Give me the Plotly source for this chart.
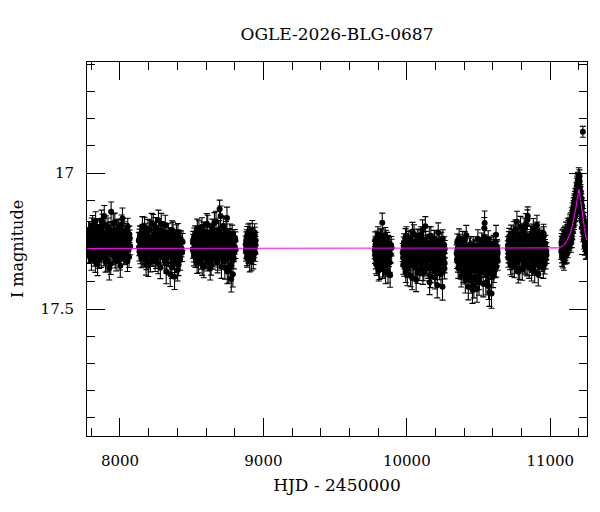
"""
    OGLE EWS style light curve, I band, with the model curve
"""
import plotly.graph_objects as go

"""
    Photometry, one set of arrays per observing season
    (HJD - 2450000, I magnitude, error)
"""
s1_t = [7771.3, 7775.2, 7779.8, 7783.4, 7788.1, 7792.6, 7796.2, 7800.9, 7804.5, 7809.3,
        7813.7, 7817.2, 7821.9, 7826.4, 7830.1, 7834.8, 7839.2, 7843.5, 7847.3, 7852.1,
        7856.4, 7860.2, 7864.9, 7869.3, 7873.1, 7877.8, 7882.2, 7886.5, 7890.3, 7895.1,
        7899.4, 7903.2, 7907.9, 7912.3, 7916.1, 7920.8, 7925.2, 7929.5, 7933.3, 7938.1,
        7942.4, 7946.2, 7950.9, 7955.3, 7959.1, 7963.8, 7968.2, 7972.5, 7976.3, 7981.1,
        7985.4, 7989.2, 7993.9, 7998.3, 8002.1, 8006.8, 8011.2, 8015.5, 8019.3, 8024.1,
        8028.4, 8032.2, 8036.9, 8041.3, 8045.1, 8049.8, 8054.2, 8058.5, 8063.3, 8068.1,
        7773.4, 7777.6, 7781.5, 7785.9, 7790.2, 7794.5, 7798.6, 7802.8, 7806.9, 7811.4,
        7815.5, 7819.6, 7824.1, 7828.3, 7832.5, 7837.0, 7841.4, 7845.3, 7849.8, 7854.2,
        7858.3, 7862.6, 7867.1, 7871.2, 7875.5, 7880.0, 7884.3, 7888.4, 7892.7, 7897.2,
        7901.3, 7905.6, 7910.1, 7914.2, 7918.5, 7923.0, 7927.3, 7931.4, 7935.7, 7940.2,
        7944.3, 7948.6, 7953.1, 7957.2, 7961.5, 7966.0, 7970.3, 7974.4, 7978.7, 7983.2,
        7987.3, 7991.6, 7996.1, 8000.2, 8004.5, 8009.0, 8013.3, 8017.4, 8021.7, 8026.2,
        8030.3, 8034.6, 8039.1, 8043.2, 8047.5, 8052.0, 8056.3, 8060.4, 8065.2, 8070.6]
s1_m = [17.262, 17.231, 17.298, 17.247, 17.214, 17.283, 17.256, 17.319, 17.238, 17.191,
        17.274, 17.229, 17.305, 17.251, 17.176, 17.268, 17.242, 17.336, 17.221, 17.259,
        17.289, 17.203, 17.247, 17.311, 17.265, 17.184, 17.236, 17.278, 17.158, 17.252,
        17.327, 17.219, 17.264, 17.291, 17.197, 17.243, 17.349, 17.258, 17.226, 17.142,
        17.273, 17.239, 17.302, 17.211, 17.268, 17.181, 17.249, 17.322, 17.232, 17.277,
        17.205, 17.261, 17.295, 17.222, 17.341, 17.253, 17.188, 17.284, 17.237, 17.269,
        17.214, 17.298, 17.246, 17.263, 17.229, 17.283, 17.197, 17.256, 17.308, 17.241,
        17.244, 17.278, 17.209, 17.263, 17.301, 17.236, 17.272, 17.195, 17.289, 17.251,
        17.218, 17.293, 17.257, 17.327, 17.234, 17.269, 17.201, 17.281, 17.246, 17.315,
        17.226, 17.262, 17.298, 17.173, 17.254, 17.287, 17.219, 17.306, 17.241, 17.276,
        17.193, 17.259, 17.322, 17.238, 17.284, 17.212, 17.267, 17.247, 17.333, 17.229,
        17.291, 17.254, 17.186, 17.273, 17.239, 17.312, 17.262, 17.221, 17.296, 17.248,
        17.276, 17.203, 17.258, 17.318, 17.236, 17.285, 17.249, 17.167, 17.271, 17.302,
        17.233, 17.266, 17.291, 17.217, 17.258, 17.324, 17.242, 17.279, 17.225, 17.268]
s1_e = [0.031, 0.029, 0.034, 0.030, 0.036, 0.032, 0.028, 0.038, 0.031, 0.035,
        0.030, 0.033, 0.037, 0.029, 0.034, 0.031, 0.030, 0.041, 0.032, 0.029,
        0.035, 0.031, 0.028, 0.036, 0.030, 0.033, 0.032, 0.029, 0.039, 0.031,
        0.037, 0.030, 0.031, 0.034, 0.032, 0.029, 0.044, 0.030, 0.033, 0.036,
        0.031, 0.028, 0.035, 0.032, 0.030, 0.034, 0.029, 0.038, 0.031, 0.030,
        0.033, 0.029, 0.036, 0.031, 0.042, 0.030, 0.034, 0.032, 0.028, 0.031,
        0.035, 0.037, 0.030, 0.029, 0.033, 0.036, 0.031, 0.030, 0.039, 0.032,
        0.030, 0.033, 0.031, 0.036, 0.029, 0.032, 0.034, 0.030, 0.037, 0.031,
        0.032, 0.029, 0.035, 0.038, 0.030, 0.031, 0.034, 0.032, 0.030, 0.036,
        0.031, 0.033, 0.029, 0.037, 0.032, 0.030, 0.034, 0.035, 0.031, 0.029,
        0.036, 0.030, 0.039, 0.031, 0.033, 0.030, 0.032, 0.029, 0.040, 0.031,
        0.034, 0.030, 0.036, 0.031, 0.029, 0.037, 0.032, 0.030, 0.035, 0.031,
        0.029, 0.034, 0.031, 0.038, 0.030, 0.033, 0.032, 0.039, 0.030, 0.035,
        0.031, 0.030, 0.034, 0.032, 0.029, 0.038, 0.031, 0.033, 0.030, 0.032]

s2_t = [8131.2, 8135.6, 8139.1, 8143.8, 8148.2, 8152.5, 8156.3, 8161.1, 8165.4, 8169.2,
        8173.9, 8178.3, 8182.1, 8186.8, 8191.2, 8195.5, 8199.3, 8204.1, 8208.4, 8212.2,
        8216.9, 8221.3, 8225.1, 8229.8, 8234.2, 8238.5, 8242.3, 8247.1, 8251.4, 8255.2,
        8259.9, 8264.3, 8268.1, 8272.8, 8277.2, 8281.5, 8285.3, 8290.1, 8294.4, 8298.2,
        8302.9, 8307.3, 8311.1, 8315.8, 8320.2, 8324.5, 8328.3, 8333.1, 8337.4, 8341.2,
        8345.9, 8350.3, 8354.1, 8358.8, 8363.2, 8367.5, 8371.3, 8376.1, 8380.4, 8384.2,
        8388.9, 8393.3, 8397.1, 8401.8, 8406.2, 8410.5, 8414.3, 8419.1, 8424.4, 8433.2,
        8133.4, 8137.5, 8141.6, 8146.0, 8150.3, 8154.4, 8158.7, 8163.2, 8167.3, 8171.6,
        8176.1, 8180.2, 8184.5, 8189.0, 8193.3, 8197.4, 8201.7, 8206.2, 8210.3, 8214.6,
        8219.1, 8223.2, 8227.5, 8232.0, 8236.3, 8240.4, 8244.7, 8249.2, 8253.3, 8257.6,
        8262.1, 8266.2, 8270.5, 8275.0, 8279.3, 8283.4, 8287.7, 8292.2, 8296.3, 8300.6,
        8305.1, 8309.2, 8313.5, 8318.0, 8322.3, 8326.4, 8330.7, 8335.2, 8339.3, 8343.6,
        8348.1, 8352.2, 8356.5, 8361.0, 8365.3, 8369.4, 8373.7, 8378.2, 8382.3, 8386.6,
        8391.1, 8395.2, 8399.5, 8404.0, 8408.3, 8412.4, 8416.7, 8421.8, 8428.5, 8436.1]
s2_m = [17.248, 17.289, 17.226, 17.271, 17.312, 17.239, 17.195, 17.263, 17.301, 17.254,
        17.218, 17.283, 17.337, 17.247, 17.269, 17.205, 17.292, 17.236, 17.274, 17.326,
        17.259, 17.184, 17.267, 17.309, 17.228, 17.281, 17.246, 17.198, 17.315, 17.262,
        17.241, 17.294, 17.173, 17.276, 17.233, 17.348, 17.257, 17.212, 17.288, 17.269,
        17.302, 17.225, 17.264, 17.191, 17.279, 17.331, 17.244, 17.297, 17.218, 17.258,
        17.286, 17.372, 17.236, 17.271, 17.209, 17.318, 17.252, 17.293, 17.381, 17.243,
        17.267, 17.224, 17.305, 17.356, 17.238, 17.284, 17.262, 17.319, 17.247, 17.292,
        17.273, 17.236, 17.298, 17.257, 17.221, 17.284, 17.309, 17.243, 17.266, 17.197,
        17.291, 17.252, 17.318, 17.229, 17.276, 17.341, 17.248, 17.207, 17.283, 17.262,
        17.302, 17.238, 17.271, 17.189, 17.295, 17.256, 17.324, 17.245, 17.213, 17.287,
        17.263, 17.331, 17.227, 17.279, 17.249, 17.305, 17.186, 17.268, 17.296, 17.234,
        17.257, 17.314, 17.242, 17.283, 17.362, 17.221, 17.274, 17.249, 17.308, 17.266,
        17.233, 17.297, 17.259, 17.346, 17.276, 17.214, 17.289, 17.243, 17.327, 17.268,
        17.301, 17.247, 17.282, 17.219, 17.337, 17.262, 17.294, 17.241, 17.276, 17.253]
s2_e = [0.030, 0.034, 0.031, 0.029, 0.036, 0.032, 0.035, 0.030, 0.033, 0.028,
        0.034, 0.031, 0.038, 0.030, 0.029, 0.035, 0.032, 0.031, 0.030, 0.037,
        0.032, 0.036, 0.029, 0.034, 0.031, 0.030, 0.028, 0.035, 0.036, 0.031,
        0.029, 0.033, 0.037, 0.030, 0.032, 0.040, 0.031, 0.034, 0.029, 0.030,
        0.035, 0.031, 0.030, 0.036, 0.029, 0.038, 0.032, 0.031, 0.034, 0.030,
        0.032, 0.045, 0.030, 0.029, 0.034, 0.037, 0.031, 0.033, 0.047, 0.030,
        0.031, 0.034, 0.036, 0.041, 0.030, 0.032, 0.029, 0.038, 0.031, 0.033,
        0.031, 0.030, 0.035, 0.032, 0.029, 0.034, 0.036, 0.031, 0.030, 0.035,
        0.033, 0.031, 0.037, 0.030, 0.032, 0.039, 0.031, 0.034, 0.030, 0.029,
        0.036, 0.031, 0.030, 0.037, 0.034, 0.032, 0.038, 0.030, 0.033, 0.031,
        0.029, 0.039, 0.032, 0.030, 0.031, 0.035, 0.038, 0.030, 0.034, 0.032,
        0.031, 0.036, 0.030, 0.033, 0.045, 0.034, 0.030, 0.031, 0.036, 0.029,
        0.033, 0.035, 0.030, 0.041, 0.031, 0.034, 0.032, 0.030, 0.039, 0.031,
        0.035, 0.030, 0.032, 0.034, 0.040, 0.031, 0.033, 0.030, 0.032, 0.031]

s3_t = [8507.6, 8511.3, 8515.9, 8520.4, 8524.2, 8528.7, 8533.1, 8537.4, 8541.2, 8545.9,
        8550.3, 8554.1, 8558.6, 8563.2, 8567.5, 8571.3, 8575.8, 8580.2, 8584.4, 8588.1,
        8592.7, 8597.2, 8601.4, 8605.3, 8609.8, 8614.1, 8618.5, 8622.3, 8626.9, 8631.2,
        8635.4, 8639.3, 8643.8, 8648.2, 8652.5, 8656.3, 8660.9, 8665.1, 8669.4, 8673.2,
        8677.8, 8682.3, 8686.5, 8690.2, 8694.7, 8699.1, 8703.4, 8707.3, 8711.8, 8716.2,
        8720.5, 8724.3, 8728.9, 8733.1, 8737.4, 8741.2, 8745.8, 8750.3, 8754.5, 8758.2,
        8762.7, 8767.1, 8771.4, 8775.8, 8780.2, 8784.5, 8789.3, 8793.8, 8798.4, 8804.1,
        8509.4, 8513.6, 8518.1, 8522.3, 8526.5, 8530.9, 8535.2, 8539.3, 8543.5, 8548.1,
        8552.2, 8556.4, 8560.9, 8565.3, 8569.4, 8573.5, 8578.0, 8582.3, 8586.2, 8590.4,
        8594.9, 8599.3, 8603.3, 8607.5, 8611.9, 8616.3, 8620.4, 8624.6, 8629.0, 8633.3,
        8637.3, 8641.5, 8646.0, 8650.3, 8654.4, 8658.6, 8663.0, 8667.2, 8671.3, 8675.5,
        8680.0, 8684.4, 8688.3, 8692.4, 8696.9, 8701.2, 8705.3, 8709.5, 8714.0, 8718.3,
        8722.4, 8726.6, 8731.0, 8735.2, 8739.3, 8743.5, 8748.0, 8752.4, 8756.3, 8760.4,
        8764.9, 8769.2, 8773.6, 8778.0, 8782.3, 8786.9, 8791.5, 8796.1, 8801.2, 8805.6]
s3_m = [17.281, 17.244, 17.306, 17.259, 17.223, 17.294, 17.267, 17.332, 17.238, 17.276,
        17.211, 17.289, 17.252, 17.318, 17.264, 17.197, 17.283, 17.241, 17.345, 17.272,
        17.229, 17.302, 17.258, 17.186, 17.277, 17.314, 17.246, 17.291, 17.219, 17.268,
        17.336, 17.254, 17.203, 17.287, 17.263, 17.309, 17.232, 17.279, 17.178, 17.296,
        17.248, 17.321, 17.265, 17.208, 17.132, 17.284, 17.253, 17.344, 17.227, 17.271,
        17.193, 17.299, 17.262, 17.237, 17.318, 17.274, 17.165, 17.289, 17.246, 17.358,
        17.268, 17.221, 17.302, 17.389, 17.255, 17.286, 17.237, 17.314, 17.269, 17.247,
        17.256, 17.293, 17.232, 17.274, 17.311, 17.248, 17.285, 17.204, 17.267, 17.329,
        17.243, 17.278, 17.301, 17.226, 17.259, 17.337, 17.271, 17.215, 17.288, 17.252,
        17.306, 17.239, 17.275, 17.323, 17.191, 17.264, 17.298, 17.247, 17.351, 17.281,
        17.222, 17.269, 17.316, 17.244, 17.289, 17.183, 17.263, 17.304, 17.237, 17.276,
        17.328, 17.251, 17.209, 17.293, 17.266, 17.158, 17.282, 17.241, 17.312, 17.257,
        17.299, 17.228, 17.347, 17.271, 17.213, 17.286, 17.362, 17.249, 17.305, 17.234,
        17.279, 17.341, 17.258, 17.296, 17.224, 17.372, 17.266, 17.291, 17.238, 17.282]
s3_e = [0.032, 0.030, 0.035, 0.031, 0.029, 0.034, 0.030, 0.037, 0.032, 0.031,
        0.036, 0.030, 0.029, 0.035, 0.031, 0.033, 0.030, 0.032, 0.040, 0.031,
        0.030, 0.034, 0.031, 0.037, 0.029, 0.035, 0.032, 0.030, 0.033, 0.031,
        0.039, 0.031, 0.034, 0.030, 0.032, 0.036, 0.029, 0.031, 0.038, 0.033,
        0.030, 0.036, 0.031, 0.034, 0.033, 0.030, 0.032, 0.043, 0.031, 0.029,
        0.035, 0.032, 0.030, 0.031, 0.037, 0.029, 0.040, 0.033, 0.031, 0.046,
        0.030, 0.034, 0.036, 0.048, 0.031, 0.032, 0.030, 0.038, 0.029, 0.031,
        0.031, 0.034, 0.030, 0.032, 0.036, 0.029, 0.033, 0.035, 0.031, 0.038,
        0.030, 0.032, 0.034, 0.031, 0.029, 0.039, 0.032, 0.035, 0.030, 0.031,
        0.036, 0.030, 0.032, 0.037, 0.036, 0.031, 0.034, 0.030, 0.042, 0.032,
        0.034, 0.031, 0.037, 0.030, 0.033, 0.038, 0.031, 0.035, 0.030, 0.032,
        0.039, 0.030, 0.034, 0.033, 0.031, 0.037, 0.030, 0.032, 0.036, 0.031,
        0.034, 0.031, 0.043, 0.030, 0.035, 0.032, 0.045, 0.031, 0.036, 0.030,
        0.032, 0.041, 0.031, 0.034, 0.033, 0.047, 0.030, 0.035, 0.031, 0.032]

s4_t = [8876.4, 8879.8, 8883.1, 8886.7, 8890.2, 8893.5, 8897.1, 8900.6, 8904.2, 8907.8,
        8911.3, 8914.9, 8918.4, 8922.1, 8925.6, 8929.2, 8932.7, 8936.3, 8940.1, 8944.6,
        8878.1, 8881.5, 8884.9, 8888.4, 8891.8, 8895.3, 8898.9, 8902.4, 8906.0, 8909.5,
        8913.1, 8916.6, 8920.2, 8923.8, 8927.4, 8931.0, 8934.5, 8938.2, 8942.3, 8946.1]
s4_m = [17.262, 17.291, 17.238, 17.305, 17.254, 17.219, 17.283, 17.247, 17.326, 17.271,
        17.233, 17.298, 17.259, 17.208, 17.287, 17.316, 17.244, 17.278, 17.229, 17.265,
        17.281, 17.246, 17.312, 17.227, 17.268, 17.296, 17.241, 17.274, 17.215, 17.289,
        17.257, 17.323, 17.236, 17.279, 17.251, 17.302, 17.262, 17.218, 17.293, 17.248]
s4_e = [0.031, 0.033, 0.030, 0.035, 0.029, 0.032, 0.031, 0.034, 0.037, 0.030,
        0.032, 0.031, 0.029, 0.034, 0.030, 0.036, 0.031, 0.033, 0.030, 0.032,
        0.032, 0.030, 0.034, 0.031, 0.029, 0.035, 0.030, 0.033, 0.031, 0.032,
        0.030, 0.036, 0.031, 0.029, 0.033, 0.034, 0.030, 0.032, 0.031, 0.030]

s5_t = [9775.8, 9779.6, 9783.2, 9787.1, 9790.9, 9794.5, 9798.3, 9802.2, 9805.8, 9809.7,
        9813.4, 9817.2, 9821.1, 9824.8, 9828.6, 9832.3, 9836.2, 9839.9, 9843.7, 9847.5,
        9851.3, 9855.1, 9858.8, 9862.6, 9866.4, 9870.2, 9874.1, 9878.3, 9883.2, 9890.6,
        9777.7, 9781.4, 9785.2, 9789.0, 9792.7, 9796.4, 9800.3, 9804.0, 9807.8, 9811.6,
        9815.3, 9819.2, 9823.0, 9826.7, 9830.5, 9834.3, 9838.1, 9841.8, 9845.6, 9849.4,
        9853.2, 9857.0, 9860.7, 9864.5, 9868.3, 9872.2, 9876.2, 9880.8, 9886.9, 9893.1]
s5_m = [17.283, 17.246, 17.317, 17.268, 17.339, 17.291, 17.227, 17.304, 17.262, 17.352,
        17.279, 17.238, 17.321, 17.296, 17.182, 17.271, 17.344, 17.253, 17.308, 17.287,
        17.366, 17.242, 17.299, 17.273, 17.328, 17.259, 17.311, 17.284, 17.376, 17.265,
        17.301, 17.262, 17.334, 17.279, 17.243, 17.316, 17.288, 17.357, 17.254, 17.297,
        17.326, 17.271, 17.235, 17.309, 17.348, 17.283, 17.257, 17.319, 17.294, 17.232,
        17.341, 17.276, 17.305, 17.249, 17.362, 17.287, 17.266, 17.329, 17.298, 17.274]
s5_e = [0.032, 0.030, 0.035, 0.031, 0.037, 0.033, 0.030, 0.034, 0.031, 0.039,
        0.030, 0.032, 0.036, 0.031, 0.035, 0.030, 0.038, 0.031, 0.033, 0.030,
        0.041, 0.032, 0.031, 0.034, 0.036, 0.030, 0.033, 0.031, 0.044, 0.032,
        0.031, 0.030, 0.036, 0.032, 0.030, 0.034, 0.031, 0.040, 0.030, 0.033,
        0.036, 0.031, 0.030, 0.034, 0.039, 0.032, 0.030, 0.035, 0.031, 0.032,
        0.038, 0.030, 0.034, 0.031, 0.042, 0.033, 0.030, 0.036, 0.032, 0.031]

s6_t = [9971.4, 9975.3, 9979.8, 9984.2, 9988.1, 9992.6, 9996.9, 10001.2, 10005.4, 10009.8,
        10013.6, 10017.9, 10022.3, 10026.5, 10030.4, 10034.8, 10039.1, 10043.3, 10047.6, 10051.9,
        10056.2, 10060.4, 10064.7, 10068.9, 10073.3, 10077.5, 10081.8, 10086.1, 10090.3, 10094.6,
        10098.9, 10103.2, 10107.4, 10111.7, 10115.9, 10120.3, 10124.5, 10128.8, 10133.1, 10137.3,
        10141.6, 10145.9, 10150.2, 10154.4, 10158.7, 10162.9, 10167.3, 10171.5, 10175.8, 10180.1,
        10184.3, 10188.6, 10192.9, 10197.2, 10201.4, 10205.7, 10209.9, 10214.3, 10218.5, 10222.8,
        10227.1, 10231.3, 10235.6, 10239.9, 10244.2, 10248.4, 10252.7, 10256.9, 10260.8, 10263.5,
        9973.5, 9977.6, 9982.0, 9986.2, 9990.4, 9994.8, 9999.1, 10003.3, 10007.6, 10011.7,
        10015.8, 10020.1, 10024.4, 10028.5, 10032.6, 10037.0, 10041.2, 10045.5, 10049.8, 10054.1,
        10058.3, 10062.6, 10066.8, 10071.1, 10075.4, 10079.7, 10084.0, 10088.2, 10092.5, 10096.8,
        10101.1, 10105.3, 10109.6, 10113.8, 10118.1, 10122.4, 10126.7, 10131.0, 10135.2, 10139.5,
        10143.8, 10148.1, 10152.3, 10156.6, 10160.8, 10165.1, 10169.4, 10173.7, 10178.0, 10182.2,
        10186.5, 10190.8, 10195.1, 10199.3, 10203.6, 10207.8, 10212.1, 10216.4, 10220.7, 10225.0,
        10229.2, 10233.5, 10237.8, 10242.1, 10246.3, 10250.6, 10254.8, 10258.9, 10262.2, 10264.1]
s6_m = [17.292, 17.336, 17.254, 17.318, 17.271, 17.363, 17.229, 17.301, 17.347, 17.283,
        17.246, 17.324, 17.288, 17.377, 17.262, 17.309, 17.215, 17.296, 17.341, 17.274,
        17.318, 17.253, 17.392, 17.286, 17.237, 17.329, 17.301, 17.264, 17.356, 17.279,
        17.227, 17.312, 17.284, 17.369, 17.248, 17.297, 17.335, 17.195, 17.306, 17.271,
        17.342, 17.259, 17.316, 17.288, 17.401, 17.266, 17.231, 17.323, 17.294, 17.352,
        17.276, 17.311, 17.243, 17.384, 17.299, 17.262, 17.337, 17.281, 17.218, 17.308,
        17.354, 17.272, 17.326, 17.249, 17.297, 17.418, 17.286, 17.312, 17.264, 17.331,
        17.311, 17.268, 17.342, 17.287, 17.236, 17.323, 17.296, 17.372, 17.259, 17.304,
        17.335, 17.277, 17.243, 17.318, 17.291, 17.386, 17.264, 17.309, 17.225, 17.298,
        17.347, 17.282, 17.318, 17.254, 17.366, 17.293, 17.241, 17.328, 17.302, 17.271,
        17.339, 17.285, 17.208, 17.314, 17.357, 17.276, 17.298, 17.248, 17.331, 17.289,
        17.263, 17.349, 17.305, 17.232, 17.294, 17.378, 17.281, 17.317, 17.256, 17.329,
        17.301, 17.244, 17.362, 17.288, 17.323, 17.269, 17.412, 17.297, 17.339, 17.252,
        17.314, 17.283, 17.371, 17.265, 17.306, 17.241, 17.327, 17.293, 17.351, 17.279]
s6_e = [0.033, 0.036, 0.031, 0.034, 0.030, 0.039, 0.032, 0.031, 0.037, 0.030,
        0.032, 0.035, 0.030, 0.041, 0.031, 0.033, 0.034, 0.030, 0.038, 0.031,
        0.034, 0.030, 0.044, 0.032, 0.031, 0.036, 0.030, 0.033, 0.039, 0.031,
        0.030, 0.034, 0.031, 0.040, 0.032, 0.030, 0.037, 0.035, 0.031, 0.033,
        0.036, 0.031, 0.033, 0.030, 0.046, 0.032, 0.034, 0.035, 0.030, 0.038,
        0.031, 0.034, 0.032, 0.042, 0.030, 0.031, 0.036, 0.033, 0.035, 0.032,
        0.038, 0.030, 0.034, 0.031, 0.032, 0.049, 0.031, 0.035, 0.030, 0.036,
        0.031, 0.033, 0.037, 0.030, 0.032, 0.035, 0.031, 0.042, 0.030, 0.034,
        0.036, 0.031, 0.033, 0.030, 0.032, 0.043, 0.031, 0.034, 0.035, 0.030,
        0.037, 0.031, 0.033, 0.032, 0.040, 0.030, 0.034, 0.036, 0.031, 0.032,
        0.038, 0.030, 0.036, 0.033, 0.039, 0.031, 0.030, 0.034, 0.037, 0.032,
        0.031, 0.038, 0.033, 0.035, 0.030, 0.043, 0.031, 0.034, 0.032, 0.036,
        0.030, 0.034, 0.041, 0.031, 0.035, 0.030, 0.047, 0.032, 0.037, 0.031,
        0.033, 0.030, 0.040, 0.031, 0.034, 0.033, 0.036, 0.030, 0.038, 0.031]

s7_t = [10347.5, 10351.2, 10356.1, 10359.7, 10364.4, 10368.0, 10372.9, 10376.3, 10381.2, 10384.6,
        10389.4, 10392.8, 10397.7, 10401.1, 10406.0, 10409.5, 10414.3, 10417.8, 10422.6, 10426.0,
        10430.9, 10434.3, 10439.2, 10442.6, 10447.5, 10450.9, 10455.8, 10459.2, 10464.1, 10467.5,
        10472.4, 10475.8, 10480.7, 10484.1, 10489.0, 10492.4, 10497.3, 10500.7, 10505.6, 10509.0,
        10513.9, 10517.3, 10522.2, 10525.6, 10530.5, 10533.9, 10538.8, 10542.2, 10547.1, 10550.5,
        10555.4, 10558.8, 10563.7, 10567.1, 10572.0, 10575.4, 10580.3, 10583.7, 10588.6, 10592.0,
        10596.9, 10600.3, 10605.2, 10608.6, 10613.5, 10616.9, 10621.8, 10625.2, 10629.1, 10632.6,
        10349.3, 10353.8, 10357.9, 10362.1, 10366.2, 10370.4, 10374.6, 10378.8, 10382.9, 10387.0,
        10391.1, 10395.3, 10399.4, 10403.6, 10407.8, 10411.9, 10416.1, 10420.2, 10424.3, 10428.5,
        10432.6, 10436.8, 10440.9, 10445.1, 10449.2, 10453.4, 10457.5, 10461.7, 10465.8, 10470.0,
        10474.1, 10478.3, 10482.4, 10486.6, 10490.7, 10494.9, 10499.0, 10503.2, 10507.3, 10511.5,
        10515.6, 10519.8, 10523.9, 10528.1, 10532.2, 10536.4, 10540.5, 10544.7, 10548.8, 10553.0,
        10557.1, 10561.3, 10565.4, 10569.6, 10573.7, 10577.9, 10582.0, 10586.2, 10590.3, 10594.5,
        10598.6, 10602.8, 10606.9, 10611.1, 10615.2, 10619.4, 10623.5, 10627.2, 10630.8, 10633.4]
s7_m = [17.296, 17.254, 17.328, 17.271, 17.239, 17.307, 17.283, 17.351, 17.262, 17.318,
        17.247, 17.339, 17.293, 17.368, 17.276, 17.312, 17.228, 17.334, 17.301, 17.382,
        17.289, 17.356, 17.318, 17.263, 17.397, 17.322, 17.281, 17.346, 17.304, 17.412,
        17.331, 17.276, 17.359, 17.298, 17.425, 17.314, 17.342, 17.268, 17.386, 17.323,
        17.297, 17.364, 17.252, 17.338, 17.309, 17.281, 17.236, 17.183, 17.347, 17.402,
        17.326, 17.288, 17.371, 17.244, 17.315, 17.438, 17.291, 17.352, 17.267, 17.334,
        17.305, 17.379, 17.259, 17.321, 17.286, 17.348, 17.227, 17.312, 17.274, 17.296,
        17.318, 17.276, 17.349, 17.292, 17.257, 17.331, 17.304, 17.378, 17.268, 17.341,
        17.287, 17.362, 17.311, 17.246, 17.395, 17.323, 17.284, 17.357, 17.299, 17.418,
        17.336, 17.271, 17.352, 17.314, 17.383, 17.293, 17.428, 17.326, 17.265, 17.347,
        17.306, 17.391, 17.322, 17.278, 17.356, 17.241, 17.337, 17.402, 17.295, 17.364,
        17.315, 17.272, 17.346, 17.289, 17.407, 17.328, 17.203, 17.319, 17.262, 17.374,
        17.301, 17.345, 17.283, 17.416, 17.327, 17.264, 17.352, 17.298, 17.443, 17.311,
        17.336, 17.274, 17.361, 17.293, 17.327, 17.252, 17.344, 17.308, 17.281, 17.323]
s7_e = [0.032, 0.030, 0.036, 0.031, 0.034, 0.033, 0.030, 0.039, 0.031, 0.035,
        0.033, 0.037, 0.031, 0.040, 0.030, 0.034, 0.036, 0.032, 0.031, 0.042,
        0.031, 0.038, 0.033, 0.030, 0.045, 0.034, 0.031, 0.037, 0.032, 0.047,
        0.034, 0.031, 0.039, 0.032, 0.050, 0.033, 0.036, 0.030, 0.043, 0.034,
        0.031, 0.040, 0.032, 0.035, 0.033, 0.030, 0.034, 0.044, 0.036, 0.046,
        0.034, 0.031, 0.041, 0.032, 0.033, 0.052, 0.030, 0.038, 0.031, 0.035,
        0.032, 0.042, 0.030, 0.034, 0.031, 0.037, 0.035, 0.033, 0.030, 0.031,
        0.033, 0.031, 0.038, 0.030, 0.032, 0.035, 0.031, 0.041, 0.030, 0.037,
        0.032, 0.040, 0.034, 0.031, 0.046, 0.033, 0.030, 0.038, 0.031, 0.048,
        0.034, 0.032, 0.039, 0.031, 0.044, 0.030, 0.051, 0.035, 0.031, 0.038,
        0.032, 0.045, 0.034, 0.030, 0.039, 0.033, 0.035, 0.047, 0.031, 0.041,
        0.033, 0.030, 0.038, 0.032, 0.048, 0.034, 0.040, 0.033, 0.031, 0.043,
        0.032, 0.037, 0.031, 0.049, 0.034, 0.030, 0.039, 0.032, 0.054, 0.033,
        0.035, 0.031, 0.041, 0.032, 0.034, 0.030, 0.038, 0.033, 0.031, 0.034]

s8_t = [10703.6, 10707.4, 10711.5, 10715.1, 10719.3, 10722.8, 10727.0, 10730.6, 10734.7, 10738.3,
        10742.5, 10746.1, 10750.2, 10753.8, 10758.0, 10761.5, 10765.7, 10769.3, 10773.4, 10777.0,
        10781.2, 10784.8, 10788.9, 10792.5, 10796.7, 10800.2, 10804.4, 10808.0, 10812.1, 10815.7,
        10819.9, 10823.5, 10827.6, 10831.2, 10835.4, 10838.9, 10843.1, 10846.7, 10850.8, 10854.4,
        10858.6, 10862.2, 10866.3, 10869.9, 10874.1, 10877.6, 10881.8, 10885.4, 10889.5, 10893.1,
        10897.3, 10900.9, 10905.0, 10908.6, 10912.8, 10916.3, 10920.5, 10924.1, 10928.2, 10931.8,
        10936.0, 10939.6, 10943.7, 10947.3, 10951.5, 10955.0, 10959.2, 10963.1, 10967.4, 10972.2,
        10705.5, 10709.4, 10713.3, 10717.2, 10721.0, 10724.9, 10728.8, 10732.6, 10736.5, 10740.4,
        10744.3, 10748.1, 10752.0, 10755.9, 10759.7, 10763.6, 10767.5, 10771.3, 10775.2, 10779.1,
        10783.0, 10786.8, 10790.7, 10794.6, 10798.4, 10802.3, 10806.2, 10810.0, 10813.9, 10817.8,
        10821.7, 10825.5, 10829.4, 10833.3, 10837.1, 10841.0, 10844.9, 10848.7, 10852.6, 10856.5,
        10860.4, 10864.2, 10868.1, 10872.0, 10875.8, 10879.7, 10883.6, 10887.4, 10891.3, 10895.2,
        10899.1, 10902.9, 10906.8, 10910.7, 10914.5, 10918.4, 10922.3, 10926.1, 10930.0, 10933.9,
        10937.8, 10941.6, 10945.5, 10949.4, 10953.2, 10957.1, 10961.2, 10965.3, 10969.8, 10973.6]
s8_m = [17.279, 17.312, 17.246, 17.298, 17.261, 17.337, 17.224, 17.288, 17.319, 17.255,
        17.302, 17.231, 17.346, 17.274, 17.208, 17.293, 17.327, 17.251, 17.284, 17.363,
        17.238, 17.301, 17.269, 17.196, 17.315, 17.282, 17.354, 17.243, 17.296, 17.219,
        17.332, 17.266, 17.305, 17.187, 17.278, 17.341, 17.158, 17.289, 17.253, 17.318,
        17.271, 17.229, 17.309, 17.357, 17.246, 17.291, 17.203, 17.324, 17.262, 17.297,
        17.338, 17.257, 17.284, 17.215, 17.311, 17.372, 17.268, 17.236, 17.302, 17.279,
        17.244, 17.326, 17.289, 17.262, 17.348, 17.231, 17.305, 17.274, 17.317, 17.286,
        17.264, 17.297, 17.233, 17.286, 17.319, 17.251, 17.274, 17.342, 17.238, 17.305,
        17.271, 17.213, 17.289, 17.331, 17.256, 17.298, 17.179, 17.276, 17.314, 17.247,
        17.282, 17.351, 17.226, 17.293, 17.267, 17.309, 17.241, 17.321, 17.278, 17.202,
        17.295, 17.258, 17.336, 17.272, 17.229, 17.171, 17.302, 17.264, 17.347, 17.283,
        17.249, 17.312, 17.276, 17.221, 17.338, 17.268, 17.294, 17.237, 17.361, 17.281,
        17.255, 17.306, 17.192, 17.289, 17.327, 17.263, 17.298, 17.345, 17.248, 17.311,
        17.276, 17.239, 17.301, 17.267, 17.222, 17.293, 17.334, 17.259, 17.287, 17.301]
s8_e = [0.030, 0.034, 0.031, 0.032, 0.029, 0.037, 0.033, 0.030, 0.035, 0.031,
        0.032, 0.034, 0.039, 0.030, 0.036, 0.031, 0.035, 0.030, 0.029, 0.041,
        0.031, 0.033, 0.030, 0.037, 0.034, 0.029, 0.040, 0.032, 0.031, 0.035,
        0.036, 0.030, 0.032, 0.038, 0.029, 0.037, 0.034, 0.031, 0.030, 0.035,
        0.029, 0.033, 0.034, 0.040, 0.031, 0.030, 0.036, 0.035, 0.029, 0.032,
        0.037, 0.030, 0.031, 0.035, 0.033, 0.043, 0.030, 0.034, 0.032, 0.029,
        0.033, 0.036, 0.030, 0.031, 0.039, 0.034, 0.032, 0.030, 0.035, 0.031,
        0.031, 0.033, 0.030, 0.034, 0.036, 0.030, 0.032, 0.038, 0.031, 0.034,
        0.030, 0.035, 0.032, 0.037, 0.030, 0.033, 0.039, 0.031, 0.035, 0.030,
        0.032, 0.040, 0.034, 0.031, 0.030, 0.036, 0.032, 0.035, 0.031, 0.037,
        0.033, 0.030, 0.038, 0.031, 0.034, 0.036, 0.032, 0.030, 0.040, 0.031,
        0.033, 0.035, 0.030, 0.034, 0.038, 0.031, 0.032, 0.030, 0.042, 0.031,
        0.030, 0.034, 0.037, 0.032, 0.036, 0.030, 0.033, 0.039, 0.031, 0.034,
        0.032, 0.030, 0.035, 0.031, 0.034, 0.033, 0.037, 0.030, 0.032, 0.031]

s9_t = [11077.4, 11079.9, 11082.6, 11085.1, 11087.8, 11090.2, 11092.9, 11095.3, 11098.1, 11100.6,
        11103.2, 11105.7, 11108.4, 11110.8, 11113.5, 11116.1, 11118.6, 11121.3, 11123.7, 11126.4,
        11128.9, 11131.5, 11134.2, 11136.6, 11139.3, 11141.8, 11144.4, 11147.1, 11149.5, 11152.2,
        11154.7, 11157.3, 11160.0, 11162.4, 11165.1, 11167.6, 11170.2, 11172.9, 11175.3, 11178.0,
        11180.5, 11183.1, 11185.8, 11188.2, 11190.9, 11193.4, 11196.0, 11198.7, 11201.1, 11203.8,
        11206.3, 11208.9, 11211.6, 11214.0, 11216.7, 11219.2, 11221.8, 11224.5, 11226.9, 11229.6,
        11232.1, 11234.7, 11237.4, 11239.8, 11242.5, 11245.0, 11247.6, 11250.3, 11252.7, 11254.8,
        11078.6, 11081.3, 11083.8, 11086.5, 11089.0, 11091.6, 11094.1, 11096.8, 11099.3, 11101.9,
        11104.5, 11107.0, 11109.6, 11112.2, 11114.8, 11117.4, 11119.9, 11122.5, 11125.1, 11127.6,
        11130.2, 11132.8, 11135.4, 11137.9, 11140.5, 11143.1, 11145.7, 11148.3, 11150.8, 11153.4,
        11156.0, 11158.6, 11161.2, 11163.7, 11166.3, 11168.9, 11171.5, 11174.1, 11176.6, 11179.2,
        11181.8, 11184.4, 11187.0, 11189.5, 11192.1, 11194.7, 11197.3, 11199.9, 11202.4, 11205.0,
        11207.6, 11210.2, 11212.8, 11215.3, 11217.9, 11220.5, 11223.1, 11225.7, 11228.2, 11230.8,
        11233.4, 11236.0, 11238.6, 11241.1, 11243.7, 11246.3, 11248.9, 11251.5, 11253.6, 11255.4]
s9_m = [17.286, 17.251, 17.309, 17.262, 17.238, 17.295, 17.274, 17.321, 17.246, 17.283,
        17.227, 17.291, 17.254, 17.302, 17.236, 17.268, 17.219, 17.277, 17.241, 17.206,
        17.262, 17.214, 17.248, 17.193, 17.239, 17.176, 17.228, 17.201, 17.243, 17.168,
        17.213, 17.152, 17.194, 17.131, 17.178, 17.112, 17.163, 17.097, 17.148, 17.086,
        17.125, 17.061, 17.098, 17.036, 17.082, 17.021, 17.067, 17.005, 17.049, 17.012,
        17.054, 17.113, 17.076, 17.139, 17.102, 17.168, 17.128, 17.187, 16.848, 17.159,
        17.214, 17.176, 17.238, 17.201, 17.259, 17.223, 17.268, 17.235, 17.282, 17.246,
        17.262, 17.297, 17.241, 17.278, 17.314, 17.255, 17.289, 17.231, 17.301, 17.268,
        17.244, 17.282, 17.213, 17.259, 17.296, 17.232, 17.266, 17.198, 17.248, 17.225,
        17.198, 17.251, 17.227, 17.184, 17.219, 17.258, 17.192, 17.226, 17.157, 17.205,
        17.139, 17.187, 17.158, 17.121, 17.169, 17.103, 17.134, 17.151, 17.083, 17.112,
        17.073, 17.131, 17.044, 17.105, 17.028, 17.089, 17.046, 17.118, 17.031, 17.094,
        17.121, 17.067, 17.145, 17.092, 17.176, 17.118, 17.149, 17.203, 17.172, 17.221,
        17.189, 17.247, 17.212, 17.271, 17.231, 17.208, 17.284, 17.255, 17.226, 17.263]
s9_e = [0.031, 0.029, 0.034, 0.030, 0.032, 0.033, 0.030, 0.036, 0.031, 0.029,
        0.032, 0.030, 0.035, 0.031, 0.029, 0.033, 0.030, 0.034, 0.031, 0.032,
        0.030, 0.033, 0.029, 0.031, 0.034, 0.030, 0.032, 0.029, 0.031, 0.030,
        0.029, 0.031, 0.028, 0.030, 0.029, 0.031, 0.028, 0.030, 0.027, 0.029,
        0.028, 0.026, 0.027, 0.025, 0.027, 0.024, 0.026, 0.025, 0.026, 0.024,
        0.025, 0.027, 0.026, 0.028, 0.027, 0.029, 0.028, 0.030, 0.020, 0.029,
        0.029, 0.031, 0.030, 0.032, 0.029, 0.031, 0.030, 0.033, 0.031, 0.030,
        0.030, 0.033, 0.031, 0.029, 0.035, 0.030, 0.032, 0.031, 0.034, 0.030,
        0.031, 0.029, 0.033, 0.030, 0.034, 0.031, 0.030, 0.032, 0.029, 0.031,
        0.030, 0.032, 0.029, 0.031, 0.030, 0.033, 0.029, 0.031, 0.030, 0.028,
        0.029, 0.030, 0.028, 0.030, 0.029, 0.027, 0.029, 0.028, 0.027, 0.028,
        0.026, 0.028, 0.025, 0.027, 0.024, 0.026, 0.025, 0.027, 0.024, 0.026,
        0.027, 0.025, 0.028, 0.026, 0.029, 0.027, 0.028, 0.030, 0.029, 0.031,
        0.029, 0.032, 0.030, 0.031, 0.030, 0.029, 0.033, 0.031, 0.030, 0.032]

"""
    Model light curve (read off the magenta line)
"""
model_t = [7770, 11000, 11050, 11077, 11100, 11111, 11125, 11139, 11150, 11162, 11172,
           11181, 11187, 11192, 11196, 11199, 11202, 11205, 11211, 11217, 11223, 11230,
           11237, 11246, 11256]
model_m = [17.277, 17.277, 17.275, 17.271, 17.262, 17.253, 17.240, 17.222, 17.200, 17.173, 17.146,
           17.118, 17.095, 17.075, 17.064, 17.060, 17.064, 17.076, 17.099, 17.130, 17.161, 17.188,
           17.210, 17.231, 17.246]

seasons = [(s1_t, s1_m, s1_e), (s2_t, s2_m, s2_e), (s3_t, s3_m, s3_e),
           (s4_t, s4_m, s4_e), (s5_t, s5_m, s5_e), (s6_t, s6_m, s6_e),
           (s7_t, s7_m, s7_e), (s8_t, s8_m, s8_e), (s9_t, s9_m, s9_e)]

hjd, imag, ierr = [], [], []
for t, m, e in seasons:
    assert len(t) == len(m) == len(e), (len(t), len(m), len(e))
    hjd += t
    imag += m
    ierr += e

font_name = 'DejaVu Serif'

# the page body has an 8px margin, so the layout is shifted back by that much
page_pad = 8

fig = go.Figure()

fig.add_trace(go.Scatter(x=hjd, y=imag, mode='markers',
                         marker=dict(color='black', size=6),
                         error_y=dict(type='data', array=ierr, color='black',
                                      thickness=1.1, width=3),
                         showlegend=False))

fig.add_trace(go.Scatter(x=model_t, y=model_m, mode='lines',
                         line=dict(color='#ff00ff', width=1.1),
                         showlegend=False))

axis_style = dict(showline=True, linecolor='black', linewidth=1, mirror='ticks',
                  ticks='inside', ticklen=18, tickwidth=1, tickcolor='black',
                  showgrid=False, zeroline=False, automargin=False,
                  tickfont=dict(family=font_name, size=15, color='black'))

fig.update_xaxes(range=[7770, 11256], dtick=1000, tick0=8000, tickformat='d',
                 minor=dict(dtick=200, tick0=8000, ticks='inside', ticklen=8,
                            tickcolor='black', tickwidth=1),
                 ticklabelstandoff=11,
                 title=dict(text='HJD - 2450000', standoff=10,
                            font=dict(family=font_name, size=17, color='black')),
                 **axis_style)

fig.update_yaxes(range=[17.967, 16.591], autorange=False, dtick=0.5, tick0=17,
                 minor=dict(dtick=0.1, tick0=17, ticks='inside', ticklen=8,
                            tickcolor='black', tickwidth=1),
                 ticklabelstandoff=9,
                 title=dict(text='I magnitude', standoff=13,
                            font=dict(family=font_name, size=16, color='black')),
                 **axis_style)

fig.update_layout(
    title=dict(text='OGLE-2026-BLG-0687', x=0.5, xref='paper',
               y=1 - (34.5 - page_pad) / 512, yref='container', yanchor='middle',
               font=dict(family=font_name, size=17, color='black')),
    width=600,
    height=512,
    autosize=False,
    margin=dict(l=87 - page_pad, r=13 + page_pad, t=62 - page_pad, b=76 + page_pad),
    paper_bgcolor='white',
    plot_bgcolor='white'
    )

fig.write_html("out.html")
